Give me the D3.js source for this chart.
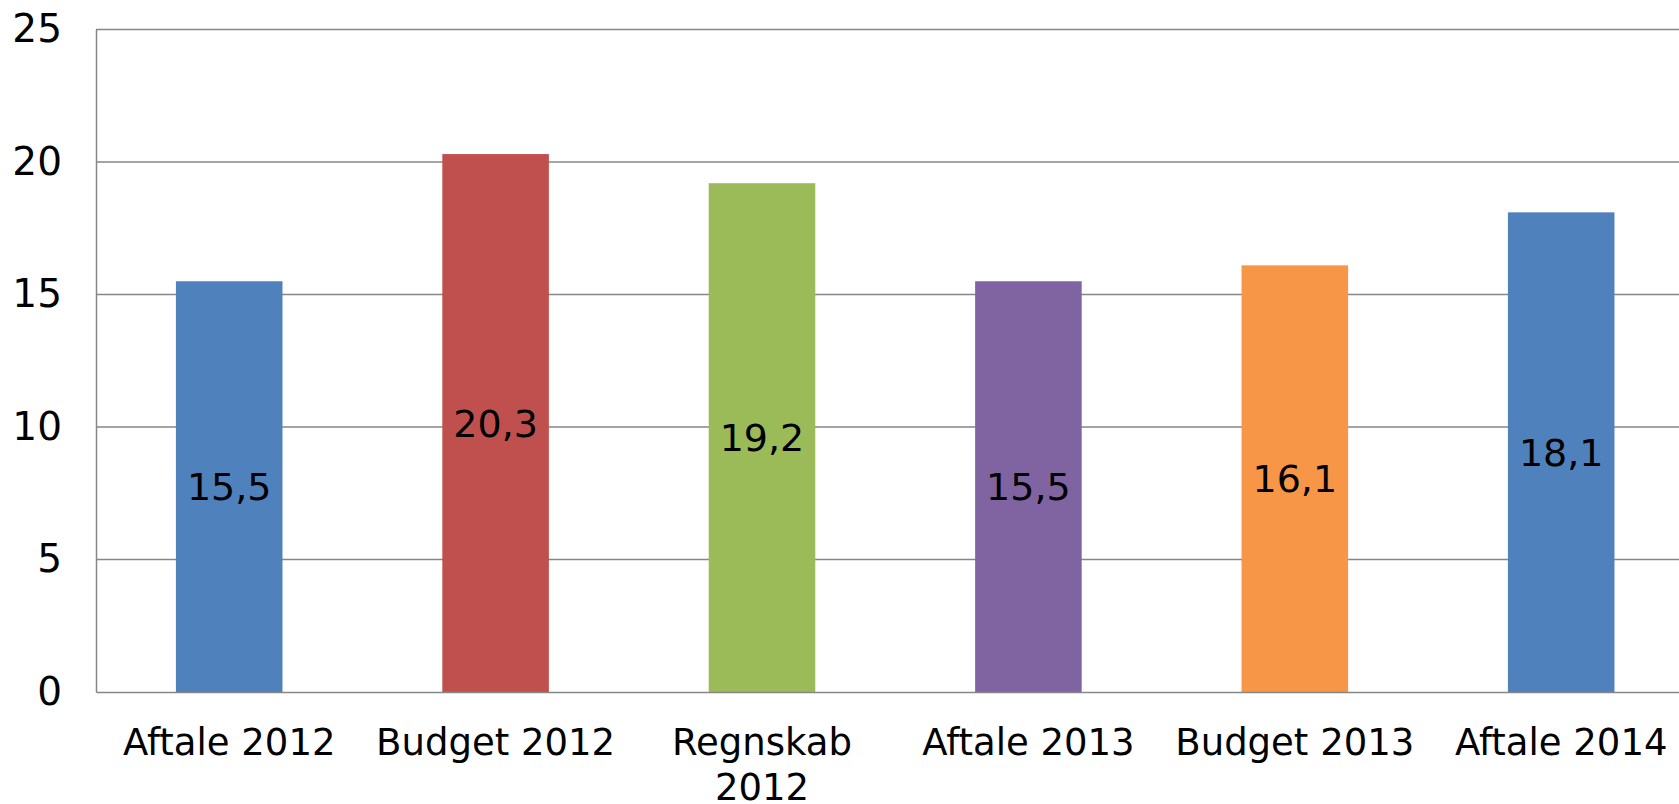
<!DOCTYPE html>
<html>
<head>
<meta charset="utf-8">
<script src="https://cdn.jsdelivr.net/npm/d3@7"></script>
<style>
  html, body { margin: 0; padding: 0; background: #fff; }
  svg { display: block; }
  text { font-family: "DejaVu Sans", Verdana, sans-serif; fill: #000; }
</style>
</head>
<body>
<svg id="chart" width="1679" height="804"></svg>
<script>
const categories = ["Aftale 2012", "Budget 2012", "Regnskab 2012", "Aftale 2013", "Budget 2013", "Aftale 2014"];
const categoryLines = [["Aftale 2012"], ["Budget 2012"], ["Regnskab", "2012"], ["Aftale 2013"], ["Budget 2013"], ["Aftale 2014"]];
const values = [15.5, 20.3, 19.2, 15.5, 16.1, 18.1];
const valueLabels = ["15,5", "20,3", "19,2", "15,5", "16,1", "18,1"];
const colors = ["#4F81BD", "#C0504D", "#9BBB59", "#8064A2", "#F79646", "#4F81BD"];
const yTicks = [0, 5, 10, 15, 20, 25];

const svg = d3.select("#chart");
const mLeft = 96, mTop = 29.5, mBottom = 692, step = 266.4;
const mRight = mLeft + step * categories.length;

const x = d3.scaleBand().domain(categories).range([mLeft, mRight]).paddingInner(0.6).paddingOuter(0.3);
const y = d3.scaleLinear().domain([0, 25]).range([mBottom, mTop]);

// gridlines
svg.append("g").selectAll("line").data(yTicks.filter(d => d > 0)).join("line")
  .attr("x1", mLeft).attr("x2", mRight)
  .attr("y1", d => y(d)).attr("y2", d => y(d))
  .attr("stroke", "#868686").attr("stroke-width", 1.5);

// bars
svg.append("g").selectAll("rect").data(values).join("rect")
  .attr("x", (d, i) => x(categories[i]))
  .attr("width", x.bandwidth())
  .attr("y", d => y(d))
  .attr("height", d => y(0) - y(d))
  .attr("fill", (d, i) => colors[i]);

// y axis
const yAxis = svg.append("g").attr("transform", `translate(${mLeft},0)`)
  .call(d3.axisLeft(y).tickValues(yTicks).tickSize(0).tickPadding(34));
yAxis.select(".domain").attr("stroke", "#868686").attr("stroke-width", 1.5);
yAxis.selectAll("text").style("font-size", "39px").style("font-family", "DejaVu Sans, Verdana, sans-serif").attr("fill", "#000");

// x axis
const xAxis = svg.append("g").attr("transform", `translate(0,${mBottom})`)
  .call(d3.axisBottom(x).tickSize(0).tickPadding(0));
xAxis.select(".domain").attr("stroke", "#868686").attr("stroke-width", 1.5);
xAxis.selectAll(".tick text").each(function(d) {
  const t = d3.select(this);
  const lines = categoryLines[categories.indexOf(d)];
  t.text(null).attr("y", 0).attr("dy", null)
    .style("font-size", "37px").style("font-family", "DejaVu Sans, Verdana, sans-serif").attr("fill", "#000");
  lines.forEach((ln, k) => {
    t.append("tspan").attr("x", 0).attr("y", 63 + k * 45).text(ln);
  });
});

// value labels
svg.append("g").selectAll("text").data(values).join("text")
  .attr("x", (d, i) => x(categories[i]) + x.bandwidth() / 2)
  .attr("y", d => y(d / 2))
  .attr("dy", "0.36em")
  .attr("text-anchor", "middle")
  .style("font-size", "38px")
  .text((d, i) => valueLabels[i]);
</script>
</body>
</html>
